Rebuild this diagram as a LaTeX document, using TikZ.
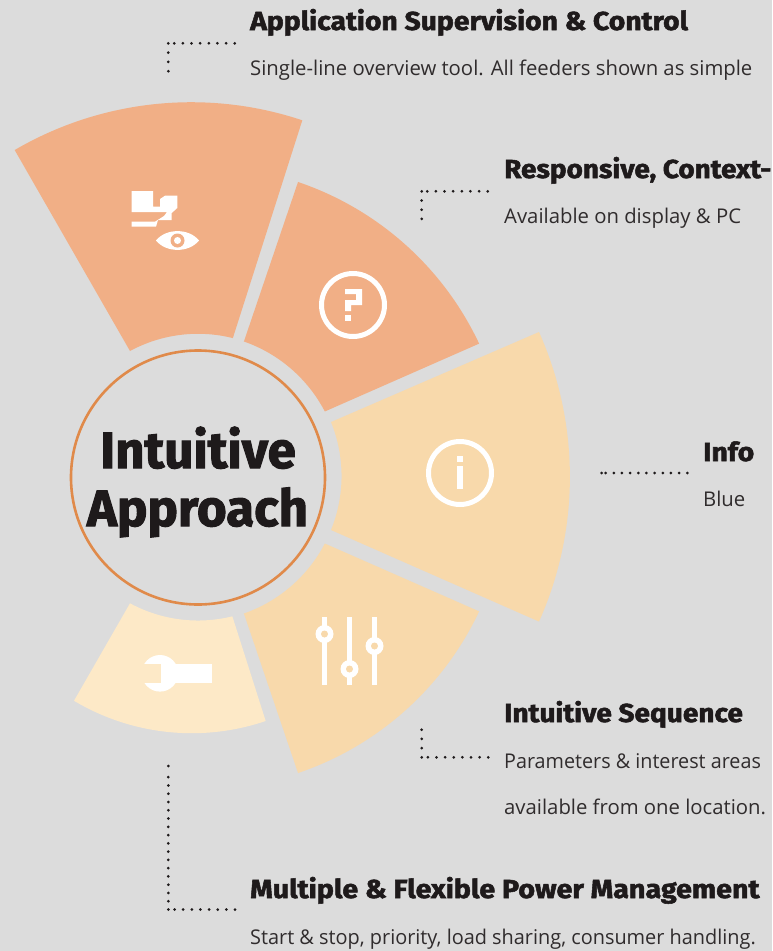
\documentclass[tikz,border=0pt]{standalone}
\usepackage{fontspec}
\usepackage{graphicx}
\setmainfont{Open Sans}
\newfontfamily\hv{Fira Sans}[BoldFeatures={FakeBold=2,FakeStretch=1.09}]
\newfontfamily\hvt{Fira Sans}[BoldFeatures={FakeBold=2}]
\definecolor{bgc}{HTML}{DCDCDC}
\definecolor{darkpeach}{HTML}{F1AF86}
\definecolor{midpeach}{HTML}{F8D9AB}
\definecolor{lightpeach}{HTML}{FDE9C7}
\definecolor{ringc}{HTML}{E08A4A}
\definecolor{inkc}{HTML}{1E1A1B}
\newcommand{\sx}[2]{\scalebox{#1}[1]{#2}}
\tikzset{
  leader/.style={draw=inkc,line width=3pt,line cap=round,dash pattern=on 0pt off #1pt},
  head/.style={anchor=base west,inner sep=0pt,text=inkc,font=\hv\bfseries\fontsize{26}{26}\selectfont},
  body/.style={anchor=base west,inner sep=0pt,text=inkc!92!white,font=\fontsize{20.3}{20.3}\selectfont},
  title/.style={anchor=base,inner sep=0pt,text=inkc,font=\hvt\bfseries\fontsize{51}{51}\selectfont},
  icon/.style={fill=white,draw=none},
  iconline/.style={draw=white,line width=4.5pt}
}
\begin{document}
\begin{tikzpicture}[x=1pt,y=1pt]
\useasboundingbox (0,0) rectangle (772,-951);
\fill[bgc] (0,0) rectangle (772,-951);
% sectors
\fill[darkpeach] (302.3,-120.3) arc[start angle=71.5,end angle=120.3,radius=350] -- (130,-351) arc[start angle=118.4,end angle=75.9,radius=143] -- cycle;
\fill[midpeach] (539,-332) arc[start angle=24.1,end angle=-24.1,radius=354.6] -- (331,-530) arc[start angle=-22.1,end angle=22.1,radius=143.5] -- cycle;
\fill[lightpeach] (265.7,-721) arc[start angle=-71.25,end angle=-120.8,radius=230] -- (130,-603.3) arc[start angle=-118.4,end angle=-76.1,radius=143] -- cycle;
\begin{scope}[shift={(198,-477.5)}]
\fill[darkpeach] (71.3:312) arc[start angle=71.3,end angle=25.2,radius=310] -- (27.5:143) arc[start angle=27.5,end angle=70.8,radius=145] -- cycle;
\fill[midpeach] (-71.3:312) arc[start angle=-71.3,end angle=-25.2,radius=310] -- (-27.5:143) arc[start angle=-27.5,end angle=-70.8,radius=145] -- cycle;
\end{scope}
\node[draw=ringc,line width=2.6pt,circle,minimum size=254pt,inner sep=0pt] (hub) at (198,-477.5) {};
\node[title] (t1) at (198,-468) {Intuitive};
\node[title] (t2) at (197.5,-526) {Approach};
% icon: machine and eye
\fill[icon] (131.7,-191) -- (153,-191) -- (153,-206.7) -- (160,-206.7) -- (160,-199) -- (165,-195.7) -- (177.3,-195.7) -- (177.3,-208) -- (171.7,-213) -- (171.7,-220) -- (158,-220) -- (156,-226.7) -- (131.7,-226.7) -- (131.7,-221.7) -- (155,-221.7) -- (164,-216) -- (167,-212) -- (131.7,-212) -- cycle;
\fill[icon] (156,-240.5) .. controls (166,-228) and (189,-228) .. (199,-240.5) .. controls (189,-253) and (166,-253) .. (156,-240.5) -- cycle;
\fill[darkpeach] (177.5,-240.5) circle[radius=7];
\fill[white] (177.5,-240.5) circle[radius=3.5];
% icon: question
\node[circle,draw=white,line width=5pt,minimum size=63pt,inner sep=0pt] (qmark) at (353,-305) {};
\fill[icon] (345,-289) -- (362,-289) -- (362,-305) -- (351,-305) -- (351,-311) -- (345,-311) -- (345,-300) -- (356,-300) -- (356,-294) -- (345,-294) -- cycle;
\fill[icon] (345,-315) rectangle (351,-321);
% icon: info
\node[circle,draw=white,line width=5pt,minimum size=63pt,inner sep=0pt] (imark) at (460,-473) {};
\fill[icon] (457,-456) rectangle (463,-462);
\fill[icon] (457,-466) rectangle (463,-489);
% icon: sliders
\draw[iconline] (324.5,-617) -- (324.5,-685);
\draw[iconline] (349.5,-617) -- (349.5,-685);
\draw[iconline] (374.5,-617) -- (374.5,-685);
\foreach \kx/\ky in {324.5/-634,349.5/-669,374.5/-646}{
  \fill[white] (\kx,\ky) circle[radius=9];
  \fill[midpeach] (\kx,\ky) circle[radius=3.5];
}
% icon: wrench
\fill[icon] (175,-664) rectangle (212,-682.7);
\fill[icon] (160,-673.3) circle[radius=18.3];
\fill[lightpeach] (140,-664) rectangle (161,-682.7);
% leaders
\coordinate (a0) at (168.3,-43.3); \coordinate (a1) at (234.7,-43.3); \coordinate (a2) at (168.3,-71.5);
\draw[leader=8.63] (a1) -- (a0); \draw[leader=9.3] (a0) -- (a2);
\coordinate (b0) at (421.7,-191.3); \coordinate (b1) at (487.7,-191.3); \coordinate (b2) at (421.7,-219.3);
\draw[leader=8.63] (b1) -- (b0); \draw[leader=9.2] (b0) -- (b2);
\coordinate (c0) at (601.7,-473); \coordinate (c1) at (687.3,-473); \coordinate (c2) at (605.5,-473);
\draw[leader=8.17] (c1) -- (c2); \fill[inkc] (c0) circle[radius=1.5];
\coordinate (d0) at (421.7,-757.3); \coordinate (d1) at (488.3,-757.3); \coordinate (d2) at (421.7,-729.5);
\draw[leader=8.63] (d1) -- (d0); \draw[leader=9.2] (d0) -- (d2);
\coordinate (e0) at (168.3,-909.5); \coordinate (e1) at (235,-909.5); \coordinate (e2) at (168.3,-777); \coordinate (e3) at (168.3,-766);
\draw[leader=8.63] (e1) -- (e0); \draw[leader=8.27] (e0) -- (e2); \fill[inkc] (e3) circle[radius=1.5];
% texts
\node[head] (h1) at (250,-30) {Application Supervision \& Control};
\node[body] (p1) at (250,-75) {Single-line overview tool. All feeders shown as simple};
\node[head] (h2) at (504,-178) {\sx{0.985}{Responsive, Context-}};
\node[body] (p2) at (504,-223) {Available on display \& PC};
\node[head] (h3) at (703,-461) {Info};
\node[body] (p3) at (703,-506) {Blue};
\node[head] (h4) at (504,-722) {\sx{0.99}{Intuitive Sequence}};
\node[body] (p4) at (504,-768) {\sx{0.973}{Parameters \& interest areas}};
\node[body] (p5) at (504,-814) {available from one location.};
\node[head] (h5) at (250,-898) {\sx{1.012}{Multiple \& Flexible Power Management}};
\node[body] (p6) at (250,-944) {\sx{0.98}{Start \& stop, priority, load sharing, consumer handling.}};
\end{tikzpicture}
\end{document}
